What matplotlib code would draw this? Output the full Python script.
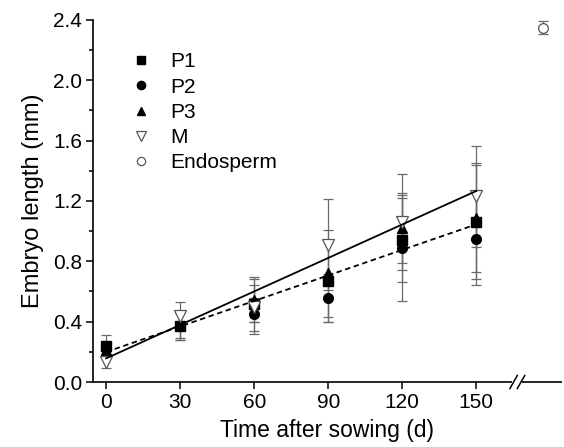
import numpy as np
import matplotlib
matplotlib.use("Agg")
import matplotlib.pyplot as plt
from matplotlib.ticker import MultipleLocator, FormatStrFormatter
from matplotlib.transforms import blended_transform_factory

plt.rcParams['font.family'] = ['Liberation Sans', 'DejaVu Sans']

# days after sowing
days = [0, 30, 60, 90, 120, 150]

# embryo length (mm) and error bars
p1 = [0.24, 0.37, 0.52, 0.67, 0.94, 1.06]
p1_err = [0.07, 0.09, 0.12, 0.27, 0.28, 0.38]
p2 = [0.22, 0.37, 0.45, 0.555, 0.89, 0.95]
p2_err = [0.04, 0.09, 0.11, 0.16, 0.35, 0.31]
p3 = [0.21, 0.38, 0.545, 0.72, 1.02, 1.09]
p3_err = [0.03, 0.09, 0.15, 0.29, 0.23, 0.36]
m = [0.13, 0.44, 0.50, 0.91, 1.06, 1.23]
m_err = [0.035, 0.09, 0.18, 0.30, 0.32, 0.335]

endo_x = [177]
endo = [2.35]
endo_err = [0.04]

fig = plt.figure(figsize=(5.64, 4.47), dpi=100)
ax = fig.add_axes([0.165, 0.1454, 0.831, 0.8099])

ecol = '#6a6a6a'
ekw = dict(ecolor=ecol, elinewidth=0.9, capsize=3.5, capthick=0.9, linestyle='none')

c1 = ax.errorbar(days, p1, yerr=p1_err, marker='s', ms=6.5, mfc='black', mec='black', **ekw)
c2 = ax.errorbar(days, p2, yerr=p2_err, marker='o', ms=7, mfc='black', mec='black', **ekw)
c3 = ax.errorbar(days, p3, yerr=p3_err, marker='^', ms=7.5, mfc='black', mec='black', **ekw)
c4 = ax.errorbar(days, m, yerr=m_err, marker='v', ms=8, mfc='white', mec='#555555', mew=0.9, **ekw)
c5 = ax.errorbar(endo_x, endo, yerr=endo_err, marker='o', ms=7, mfc='white', mec='#555555', mew=0.9, **ekw)

# linear fits
xx = np.array([days[0], days[-1]])
km, bm = np.polyfit(days, m, 1)
ax.plot(xx, km * xx + bm, color='black', lw=1.3, zorder=5)
allx = days * 3
ally = p1 + p2 + p3
kp, bp = np.polyfit(allx, ally, 1)
ax.plot(xx, kp * xx + bp, color='black', lw=1.3, ls=(0, (3, 2)), zorder=5)

ax.set_xlim(-5.3, 184.6)
ax.set_ylim(0, 2.4)
ax.set_xticks(days)
ax.yaxis.set_major_locator(MultipleLocator(0.4))
ax.yaxis.set_minor_locator(MultipleLocator(0.2))
ax.yaxis.set_major_formatter(FormatStrFormatter('%.1f'))
ax.tick_params(axis='both', which='major', direction='out', length=5, width=1.1, labelsize=15, pad=3)
ax.tick_params(axis='y', which='minor', direction='out', length=3, width=1.1)

for s in ['top', 'right', 'bottom']:
    ax.spines[s].set_visible(False)
ax.spines['left'].set_linewidth(1.2)

# broken x axis line
tr = blended_transform_factory(ax.transData, ax.transAxes)
ax.plot([-5.3, 164.6], [0, 0], color='black', lw=1.2, transform=tr, clip_on=False, solid_capstyle='butt')
ax.plot([168.6, 184.6], [0, 0], color='black', lw=1.2, transform=tr, clip_on=False, solid_capstyle='butt')
for x0 in (163.6, 166.6):
    ax.plot([x0, x0 + 3.0], [-0.018, 0.018], color='black', lw=1.1, transform=tr, clip_on=False)

ax.set_xlabel('Time after sowing (d)', fontsize=16.5, labelpad=5)
ax.set_ylabel('Embryo length (mm)', fontsize=17, labelpad=6)

handles = [c1[0], c2[0], c3[0], c4[0], c5[0]]
labels = ['P1', 'P2', 'P3', 'M', 'Endosperm']
leg = ax.legend(handles, labels, loc='upper left', bbox_to_anchor=(0.04, 0.962), frameon=False,
                fontsize=15, handlelength=1.0, handletextpad=0.9, labelspacing=0.3, numpoints=1)
for h in leg.legend_handles:
    h.set_markersize(h.get_markersize() * 0.85)

fig.savefig('out.png', dpi=100)
